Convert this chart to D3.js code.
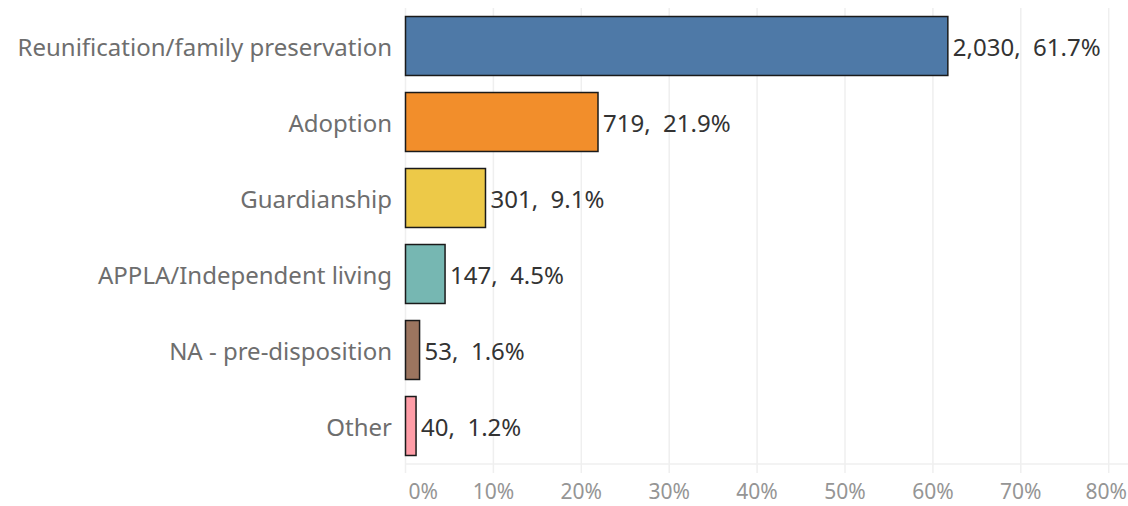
<!DOCTYPE html>
<html>
<head>
<meta charset="utf-8">
<script src="https://cdn.jsdelivr.net/npm/d3@7"></script>
<style>
  body { margin: 0; background: #fff; }
  text { font-family: "Noto Sans", sans-serif; }
</style>
</head>
<body>
<svg id="svg"></svg>
<script>
// data
const categories = ["Reunification/family preservation", "Adoption", "Guardianship",
    "APPLA/Independent living", "NA - pre-disposition", "Other"];
const counts = [2030, 719, 301, 147, 53, 40];
const percents = [61.7, 21.9, 9.1, 4.5, 1.6, 1.2];
const colors = ["#4e79a7", "#f28e2b", "#edc948", "#76b7b2", "#9c755f", "#ff9da7"];
const xTicks = [0, 10, 20, 30, 40, 50, 60, 70, 80];

let width = 1128;
let height = 506;

let svg = d3.select("#svg").attr("width", width).attr("height", height);

let plotLeft = 405.5;
let plotRight = plotLeft + 87.9 * 8;
let plotTop = 8;
let plotBottom = 464;

let x = d3.scaleLinear().domain([0, 80]).range([plotLeft, plotRight]);
let y = d3.scaleBand().domain(categories).range([plotTop, plotBottom]).paddingInner(0.224).paddingOuter(0.112);

// gridlines
svg.append("g").selectAll("line")
    .data(xTicks)
    .join("line")
    .attr("x1", d => x(d)).attr("x2", d => x(d))
    .attr("y1", plotTop).attr("y2", plotBottom + 9)
    .attr("stroke", "#efefef").attr("stroke-width", 1.5);

// axis line
svg.append("line")
    .attr("x1", plotLeft).attr("x2", width)
    .attr("y1", plotBottom).attr("y2", plotBottom)
    .attr("stroke", "#efefef").attr("stroke-width", 1.5);

// tick labels - first and last nudged so they stay inside the picture
let lastTick = xTicks.length - 1;
svg.append("g").selectAll("text")
    .data(xTicks)
    .join("text")
    .attr("x", (d, i) => i === 0 ? x(d) + 3 : (i === lastTick ? width - 1 : x(d)))
    .attr("y", 491)
    .attr("text-anchor", (d, i) => i === 0 ? "start" : (i === lastTick ? "end" : "middle"))
    .attr("dominant-baseline", "central")
    .attr("font-size", "21px")
    .attr("fill", "#959595")
    .text(d => d + "%");

// bars
let rows = categories.map((c, i) => ({ cat: c, n: counts[i], p: percents[i], col: colors[i] }));

svg.append("g").selectAll("rect")
    .data(rows)
    .join("rect")
    .attr("x", x(0))
    .attr("y", d => y(d.cat))
    .attr("width", d => x(d.p) - x(0))
    .attr("height", y.bandwidth())
    .attr("fill", d => d.col)
    .attr("stroke", "#1a1a1a")
    .attr("stroke-width", 1.5);

// category labels
svg.append("g").selectAll("text")
    .data(rows)
    .join("text")
    .attr("x", 392)
    .attr("y", d => y(d.cat) + y.bandwidth() / 2)
    .attr("text-anchor", "end")
    .attr("dominant-baseline", "central")
    .attr("font-size", "24px")
    .attr("fill", "#6e6e6e")
    .text(d => d.cat);

// value labels
svg.append("g").selectAll("text")
    .data(rows)
    .join("text")
    .attr("x", d => x(d.p) + 5)
    .attr("y", d => y(d.cat) + y.bandwidth() / 2)
    .attr("dominant-baseline", "central")
    .attr("font-size", "24px")
    .attr("fill", "#333")
    .style("white-space", "pre")
    .text(d => d3.format(",")(d.n) + ",\u00a0\u00a0" + d.p.toFixed(1) + "%");
</script>
</body>
</html>
